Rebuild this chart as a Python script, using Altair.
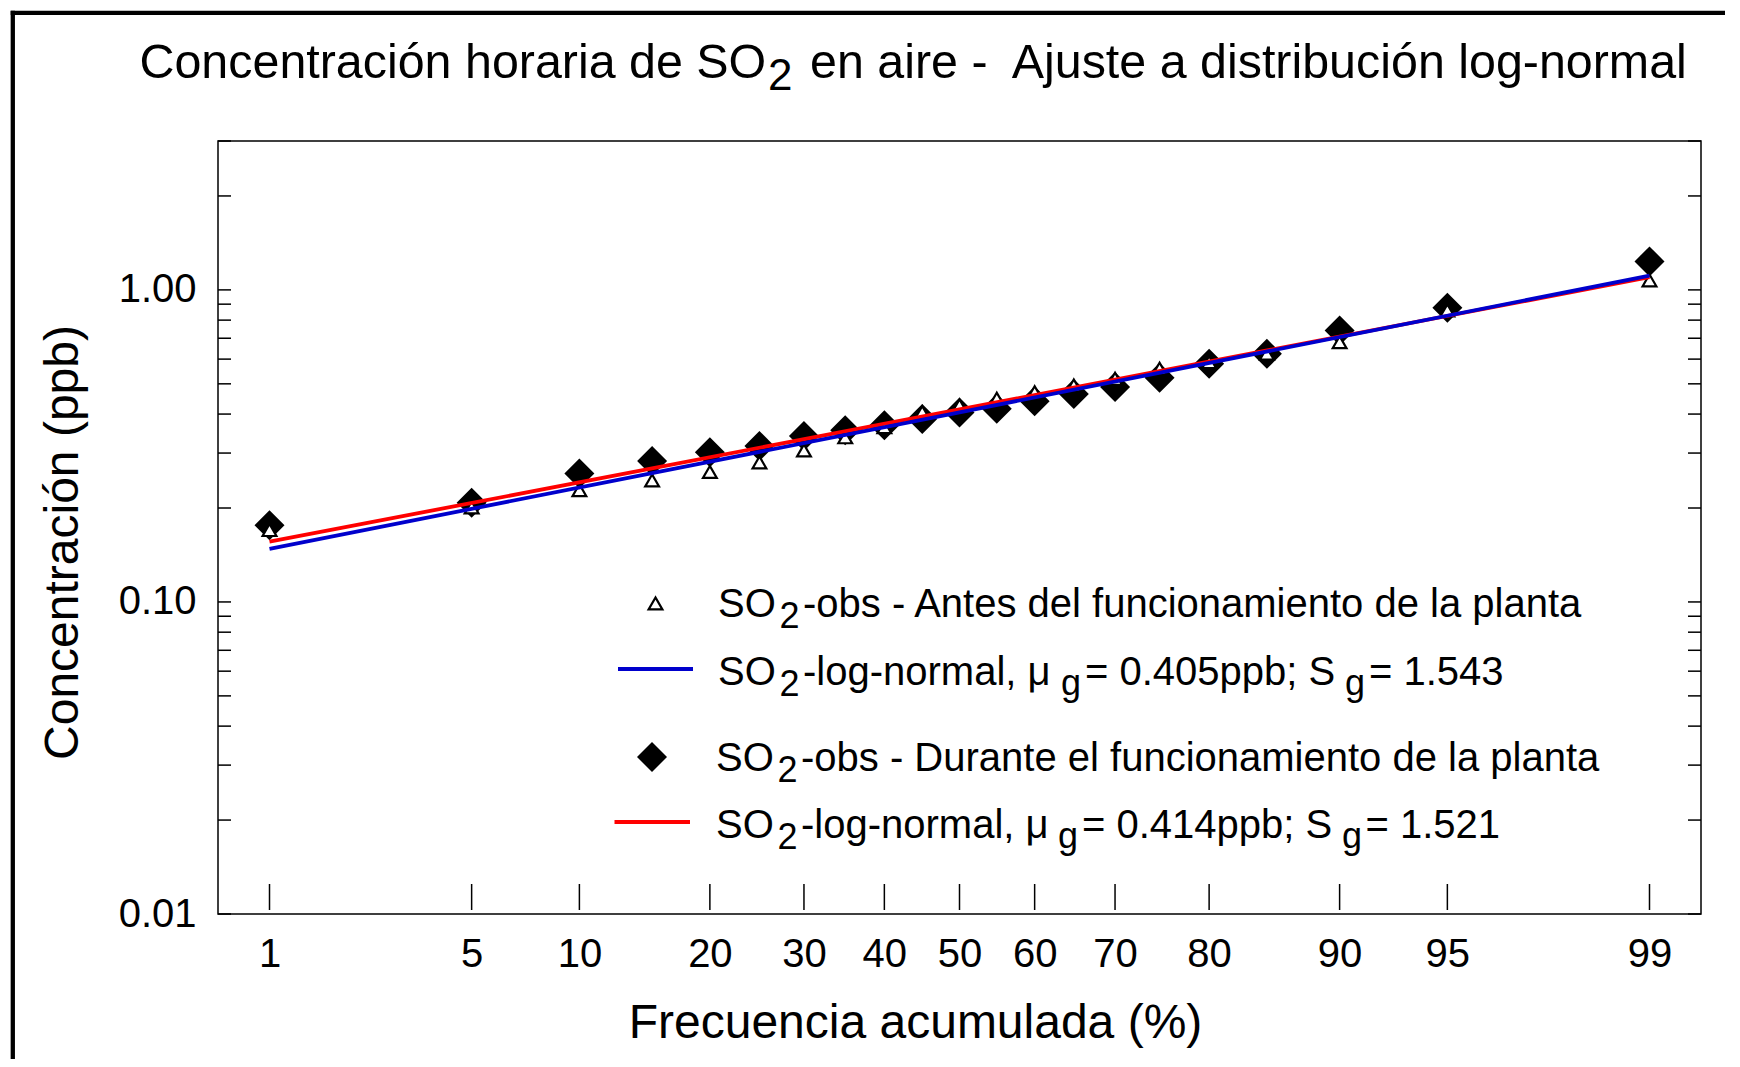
import altair as alt
import pandas as pd
from statistics import NormalDist

# ---------------- data ----------------
PCT = [1, 5, 10, 15, 20, 25, 30, 35, 40, 45, 50, 55, 60, 65, 70, 75, 80, 85, 90, 95, 99]
DURANTE = [0.176, 0.208, 0.258, 0.283, 0.302, 0.316, 0.340, 0.355, 0.368, 0.386, 0.405,
           0.416, 0.440, 0.464, 0.488, 0.523, 0.580, 0.624, 0.741, 0.877, 1.234]
ANTES = [0.170, 0.201, 0.228, 0.245, 0.261, 0.280, 0.306, 0.337, 0.363, 0.406, 0.426,
         0.448, 0.470, 0.494, 0.519, 0.559, 0.587, 0.625, 0.680, 0.860, 1.073]
FIT_PCT = [1, 50, 99]
FIT_ANTES = [0.148, 0.405, 1.111]
FIT_DURANTE = [0.156, 0.414, 1.098]

XTICKS = [1, 5, 10, 20, 30, 40, 50, 60, 70, 80, 90, 95, 99]
YLABELS = [0.01, 0.1, 1]
YTICKS = [0.01, 0.02, 0.03, 0.04, 0.05, 0.06, 0.07, 0.08, 0.09,
          0.1, 0.2, 0.3, 0.4, 0.5, 0.6, 0.7, 0.8, 0.9, 1, 2, 3]

# ---------------- layout ----------------
FONT = "Liberation Sans"
W, H = 1483, 773
PAD = {"left": 210, "top": 133, "right": 24, "bottom": 145}
X0, Y0 = 8 + PAD["left"], 8 + PAD["top"]   # page position of plot origin
BLUE = "#0000cc"
RED = "#ff0000"
NBSP = "\u00a0"

nd = NormalDist()
ZCALC = "quantileNormal(datum.p / 100)"

xscale = alt.Scale(type="linear", domain=[-2.5, 2.5], nice=False, zero=False)
yscale = alt.Scale(type="log", domain=[0.01, 3], nice=False)

xaxis = alt.Axis(
    values=[nd.inv_cdf(p / 100) for p in XTICKS],
    labelExpr="round(cumulativeNormal(datum.value) * 100)",
    title="Frecuencia acumulada (%)",
    ticks=False, tickSize=0, domain=False, grid=False,
    labelFontSize=40, labelPadding=52, labelBaseline="alphabetic",
    labelOverlap=False, labelFlush=False,
    titleFontSize=48, titleFontWeight="normal",
    titleX=915 - X0, titleY=1037 - (Y0 + H), titleAlign="center", titleBaseline="alphabetic",
)
yaxis = alt.Axis(
    values=YLABELS, format=".2f",
    title="Concentración (ppb)",
    ticks=False, tickSize=0, domain=False, grid=False,
    labelFontSize=40, labelPadding=22, labelOverlap=False, labelFlush=False,
    titleFontSize=48, titleFontWeight="normal", titleAngle=270,
    titleX=77.5 - X0, titleY=542 - Y0, titleAlign="center", titleBaseline="alphabetic",
)

xenc = alt.X("z:Q", scale=xscale, axis=xaxis)
yenc = alt.Y("v:Q", scale=yscale, axis=yaxis)

one = alt.Data(values=[{}])


def txt(s, px, py, size=40):
    return alt.Chart(one).mark_text(
        text=s, font=FONT, fontSize=size, align="left", baseline="alphabetic", color="black"
    ).encode(x=alt.value(px - X0), y=alt.value(py - Y0))


layers = []

# outer black frame (left and top)
layers.append(alt.Chart(one).mark_rule(color="black", strokeWidth=4.3, strokeCap="butt").encode(
    x=alt.value(12.8 - X0), y=alt.value(10.7 - Y0), y2=alt.value(1070 - Y0)))
layers.append(alt.Chart(one).mark_rule(color="black", strokeWidth=4.3, strokeCap="butt").encode(
    y=alt.value(12.8 - Y0), x=alt.value(10.7 - X0), x2=alt.value(1745 - X0)))

# inward y ticks (left and right)
yt = pd.DataFrame({"v": YTICKS})
layers.append(alt.Chart(yt).mark_rule(color="black", strokeWidth=1.5).encode(
    y=yenc, x=alt.value(0), x2=alt.value(13)))
layers.append(alt.Chart(yt).mark_rule(color="black", strokeWidth=1.5).encode(
    y=yenc, x=alt.value(W - 13), x2=alt.value(W)))

# inward x ticks
xt = pd.DataFrame({"p": XTICKS})
layers.append(alt.Chart(xt).transform_calculate(z=ZCALC).mark_rule(color="black", strokeWidth=1.5).encode(
    x=xenc, y=alt.value(H - 4), y2=alt.value(H - 30)))

# observations
d_dur = pd.DataFrame({"p": PCT, "v": DURANTE})
d_ant = pd.DataFrame({"p": PCT, "v": ANTES})
layers.append(alt.Chart(d_dur).transform_calculate(z=ZCALC).mark_point(
    shape="diamond", filled=True, color="black", size=900, opacity=1).encode(x=xenc, y=yenc))
layers.append(alt.Chart(d_ant).transform_calculate(z=ZCALC).mark_point(
    shape="triangle-up", filled=True, fill="white", stroke="black", strokeWidth=2.2,
    size=190, opacity=1).encode(x=xenc, y=yenc))

# fitted log-normal lines
f_dur = pd.DataFrame({"p": FIT_PCT, "v": FIT_DURANTE})
f_ant = pd.DataFrame({"p": FIT_PCT, "v": FIT_ANTES})
layers.append(alt.Chart(f_dur).transform_calculate(z=ZCALC).mark_line(
    color=RED, strokeWidth=3.8).encode(x=xenc, y=yenc))
layers.append(alt.Chart(f_ant).transform_calculate(z=ZCALC).mark_line(
    color=BLUE, strokeWidth=3.8).encode(x=xenc, y=yenc))

# legend symbols
layers.append(alt.Chart(one).mark_point(
    shape="triangle-up", filled=True, fill="white", stroke="black", strokeWidth=2.2,
    size=190, opacity=1).encode(x=alt.value(655.5 - X0), y=alt.value(603.5 - Y0)))
layers.append(alt.Chart(one).mark_rule(color=BLUE, strokeWidth=3.8).encode(
    x=alt.value(618 - X0), x2=alt.value(693 - X0), y=alt.value(669 - Y0)))
layers.append(alt.Chart(one).mark_point(
    shape="diamond", filled=True, color="black", size=900, opacity=1).encode(
    x=alt.value(652 - X0), y=alt.value(757 - Y0)))
layers.append(alt.Chart(one).mark_rule(color=RED, strokeWidth=3.8).encode(
    x=alt.value(614.5 - X0), x2=alt.value(690 - X0), y=alt.value(822 - Y0)))

# legend texts (with subscripts)
SUB = 36
# line 1
layers += [txt("SO", 718, 617), txt("2", 779.5, 628, SUB),
           txt("-obs - Antes del funcionamiento de la planta", 803, 617)]
# line 2
layers += [txt("SO", 718, 685), txt("2", 779.5, 696, SUB),
           txt("-log-normal, \u03bc", 803, 685), txt("g", 1061, 695, SUB),
           txt("= 0.405ppb; S", 1085, 685), txt("g", 1345, 695, SUB),
           txt("= 1.543", 1369, 685)]
# line 3
layers += [txt("SO", 716, 771), txt("2", 777.5, 782, SUB),
           txt("-obs - Durante el funcionamiento de la planta", 801, 771)]
# line 4
layers += [txt("SO", 716, 838), txt("2", 777.5, 849, SUB),
           txt("-log-normal, \u03bc", 801, 838), txt("g", 1058, 848, SUB),
           txt("= 0.414ppb; S", 1082, 838), txt("g", 1342, 848, SUB),
           txt("= 1.521", 1365.5, 838)]

# title (with subscript)
TS = 48.4
layers += [txt("Concentración horaria de SO", 139.5, 78.3, TS),
           txt("2", 768, 90.3, 44),
           txt("en aire -" + NBSP + " Ajuste a distribución log-normal", 810, 78.3, TS)]

chart = alt.layer(*layers).properties(
    width=W, height=H, padding=PAD,
    autosize=alt.AutoSizeParams(type="none"),
    background="white",
).configure_view(
    stroke="black", strokeWidth=1.5,
).configure_axis(
    labelFont=FONT, titleFont=FONT, labelColor="black", titleColor="black",
)

chart.save("out.html", embed_options={"renderer": "svg", "actions": False})
